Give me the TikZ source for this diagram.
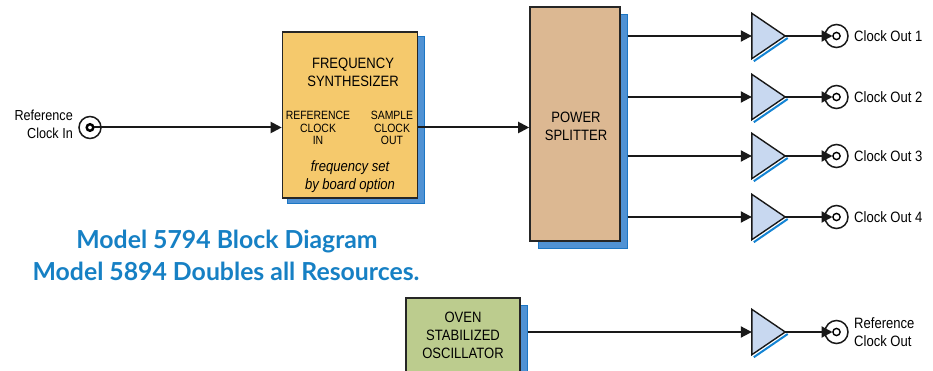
\documentclass[tikz,border=0pt]{standalone}
\usepackage{fontspec}
\setmainfont{Liberation Sans}[FakeStretch=0.87]
\newfontfamily\titlefont{Lato}
\usetikzlibrary{arrows.meta,calc}
\definecolor{fsfill}{RGB}{245,201,108}
\definecolor{psfill}{RGB}{220,184,146}
\definecolor{osfill}{RGB}{188,204,142}
\definecolor{shblue}{RGB}{80,146,212}
\definecolor{shedge}{RGB}{28,118,196}
\definecolor{ampfill}{RGB}{200,216,240}
\definecolor{ampline}{RGB}{20,132,212}
\definecolor{titleblue}{RGB}{22,128,196}
\begin{document}
\begin{tikzpicture}[x=1pt,y=-1pt,
  box/.style={draw=black!85,line width=1.6pt,inner sep=0pt},
  shadowbox/.style={fill=shblue,draw=shedge,line width=1pt,inner sep=0pt},
  wire/.style={line width=2pt,draw=black!90},
  arr/.style={wire,-{Triangle[length=11pt,width=11pt]}},
  lbl/.style={font=\fontsize{15}{18}\selectfont,align=center,inner sep=0pt},
  small/.style={font=\fontsize{12}{12.3}\selectfont,align=center,inner sep=0pt},
  amp/.style={minimum width=33pt,minimum height=45pt,inner sep=0pt,draw=none},
  ampshape/.style={fill=ampfill,draw=black!90,line width=1.4pt,line join=miter},
  ampshadow/.style={draw=ampline,line width=2pt},
  jack/.style={circle,draw=black!90,line width=1.5pt,minimum size=23pt,inner sep=0pt,fill=white},
  title/.style={font=\titlefont\bfseries\fontsize{24.8}{28}\selectfont,text=titleblue,inner sep=0pt},
]
\useasboundingbox (0,0) rectangle (933,371);
\clip (0,0) rectangle (933,371);

% Frequency synthesizer
\node[shadowbox,minimum width=137pt,minimum height=167pt] (fsS) at (355.5,120.5) {};
\node[box,fill=fsfill,minimum width=135pt,minimum height=166pt] (fs) at (350,115) {};
\node[lbl] (fst) at (353,72) {FREQUENCY\\SYNTHESIZER};
\node[small] (fsin) at (318,128) {REFERENCE\\CLOCK\\IN};
\node[small] (fsout) at (392,128) {SAMPLE\\CLOCK\\OUT};
\node[lbl,font=\itshape\fontsize{15}{18}\selectfont] (fsopt) at (350,177) {frequency set\\by board option};

% Power splitter
\node[shadowbox,minimum width=89pt,minimum height=233pt] (psS) at (582.5,131.5) {};
\node[box,fill=psfill,minimum width=90pt,minimum height=234pt] (ps) at (575,124) {};
\node[lbl] (pst) at (576,126.5) {POWER\\SPLITTER};

% Oven stabilized oscillator
\node[shadowbox,minimum width=114pt,minimum height=102pt] (osS) at (470,356) {};
\node[box,fill=osfill,minimum width=114pt,minimum height=102pt] (os) at (463,349) {};
\node[lbl] (ost) at (463,335) {OVEN\\STABILIZED\\OSCILLATOR};

% Title
\node[title] (t1) at (227,242) {Model 5794 Block Diagram};
\node[title] (t2) at (226,271) {Model 5894 Doubles all Resources.};

% Reference clock in
\node[jack,minimum size=22pt] (rin) at (90,127.5) {};
\draw[line width=2.4pt] (rin.center) circle[radius=3.3];
\node[lbl,align=right,anchor=east,font=\fontsize{14.5}{17.6}\selectfont] (rinl) at (73,124.5) {Reference\\Clock In};
\draw[arr] ([xshift=4pt]rin.center) -- (fs.west |- rin.center);
\draw[arr] (fs.east |- rin.center) -- (ps.west |- rin.center);

% Amplifiers and outputs
\foreach \i/\y in {1/36,2/97,3/156,4/217,5/332}{
  \node[amp] (a\i) at (768.5,\y) {};
  \draw[ampshadow] ([shift={(2,2.5)}]a\i.south west) -- ([shift={(2.5,2)}]a\i.east);
  \draw[ampshape] (a\i.north west) -- (a\i.east) -- (a\i.south west) -- cycle;
  \node[jack] (c\i) at (836.5,\y) {};
  \draw[line width=1.4pt] (c\i.center) circle[radius=3.6];
  \draw[arr] (a\i.east) -- ([xshift=-4pt]c\i.center);
}
\foreach \i in {1,2,3,4}{
  \draw[arr] (psS.east |- a\i.west) -- (a\i.west);
  \node[lbl,anchor=west] (l\i) at ([xshift=17.5pt]c\i.center) {Clock Out \i};
}
\draw[arr] (osS.east |- a5.west) -- (a5.west);
\node[lbl,anchor=west,align=left] (l5) at ([xshift=17.5pt]c5.center) {Reference\\Clock Out};
\end{tikzpicture}
\end{document}
